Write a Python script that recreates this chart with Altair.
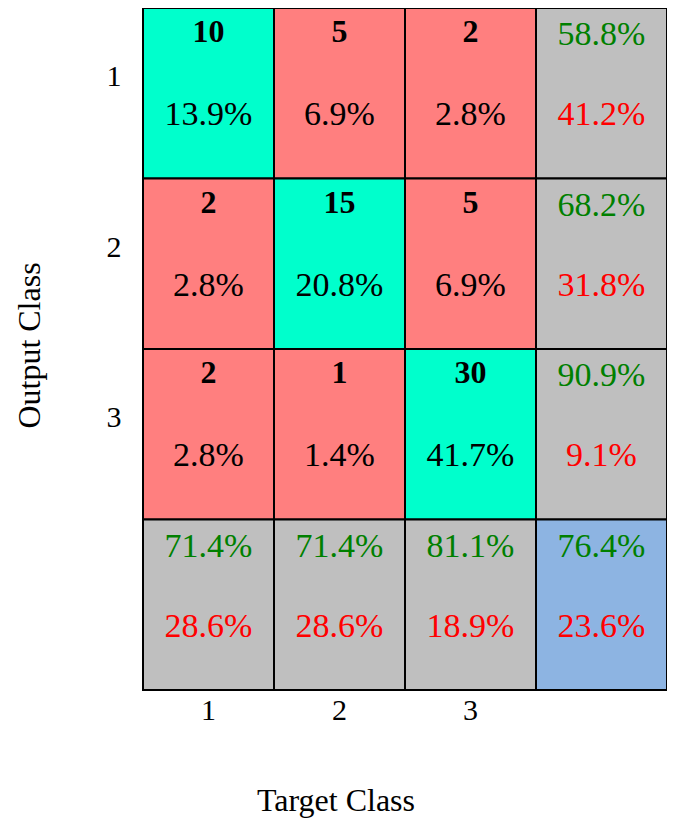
import altair as alt
import pandas as pd

classes = ["1", "2", "3"]
counts = [[10, 5, 2],
          [2, 15, 5],
          [2, 1, 30]]
cell_pct = [["13.9%", "6.9%", "2.8%"],
            ["2.8%", "20.8%", "6.9%"],
            ["2.8%", "1.4%", "41.7%"]]
row_correct = ["58.8%", "68.2%", "90.9%"]
row_wrong = ["41.2%", "31.8%", "9.1%"]
col_correct = ["71.4%", "71.4%", "81.1%"]
col_wrong = ["28.6%", "28.6%", "18.9%"]
overall_correct = "76.4%"
overall_wrong = "23.6%"

ALL = "all"
GREEN_CELL = "#00FFCC"
RED_CELL = "#FF7F7F"
GRAY_CELL = "#BFBFBF"
BLUE_CELL = "#8DB4E2"

rows = []
for i, r in enumerate(classes):
    for j, c in enumerate(classes):
        rows.append(dict(row=r, col=c, fill=GREEN_CELL if i == j else RED_CELL,
                         kind="matrix", top=str(counts[i][j]), bottom=cell_pct[i][j],
                         bcolor="#000000"))
    rows.append(dict(row=r, col=ALL, fill=GRAY_CELL, kind="summary",
                     top=row_correct[i], bottom=row_wrong[i], bcolor="#FF0000"))
for j, c in enumerate(classes):
    rows.append(dict(row=ALL, col=c, fill=GRAY_CELL, kind="summary",
                     top=col_correct[j], bottom=col_wrong[j], bcolor="#FF0000"))
rows.append(dict(row=ALL, col=ALL, fill=BLUE_CELL, kind="summary",
                 top=overall_correct, bottom=overall_wrong, bcolor="#FF0000"))
df = pd.DataFrame(rows)

order = classes + [ALL]
FONT = "Liberation Serif"
W, H = 524, 682

x_enc = alt.X("col:O", scale=alt.Scale(domain=order, paddingInner=0, paddingOuter=0),
              axis=alt.Axis(title="Target Class", labelExpr="datum.label == 'all' ? '' : datum.label",
                            labelAngle=0, ticks=False, domain=False, labelFont=FONT, labelFontSize=30,
                            labelColor="black", labelPadding=5, titleFont=FONT, titleFontSize=32,
                            titleFontWeight="normal", titleColor="black", titleX=W * 3 / 8 - 4,
                            titleY=110, titleBaseline="middle", titleAnchor="middle"))
y_enc = alt.Y("row:O", scale=alt.Scale(domain=order, paddingInner=0, paddingOuter=0),
              axis=alt.Axis(title="Output Class", labelExpr="datum.label == 'all' ? '' : datum.label",
                            ticks=False, domain=False, labelFont=FONT, labelFontSize=30,
                            labelColor="black", labelPadding=22, labelOffset=-16,
                            titleFont=FONT, titleFontSize=32, titleFontWeight="normal",
                            titleColor="black", titleAngle=-90, titleX=-114, titleY=H / 2 - 4,
                            titleAlign="center", titleBaseline="middle"))

base = alt.Chart(df)

cells = base.mark_rect(stroke="black", strokeWidth=2).encode(
    x=x_enc, y=y_enc, fill=alt.Fill("fill:N", scale=None))

count_text = base.transform_filter(alt.datum.kind == "matrix").mark_text(
    font=FONT, fontSize=32, fontWeight="bold", color="black", baseline="middle", dy=-61
).encode(x=x_enc, y=y_enc, text="top:N")

top_pct = base.transform_filter(alt.datum.kind == "summary").mark_text(
    font=FONT, fontSize=34, color="#008000", baseline="middle", dy=-58
).encode(x=x_enc, y=y_enc, text="top:N")

bottom_text = base.mark_text(font=FONT, fontSize=34, baseline="middle", dy=22).encode(
    x=x_enc, y=y_enc, text="bottom:N", color=alt.Color("bcolor:N", scale=None))

chart = alt.layer(cells, count_text, top_pct, bottom_text).properties(
    width=W, height=H,
    autosize=alt.AutoSizeParams(type="none"),
    padding={"left": 135, "top": 0, "right": 0, "bottom": 128},
    background="white",
).configure_view(stroke=None)

chart.save("out.html", embed_options={"renderer": "svg", "actions": False})
